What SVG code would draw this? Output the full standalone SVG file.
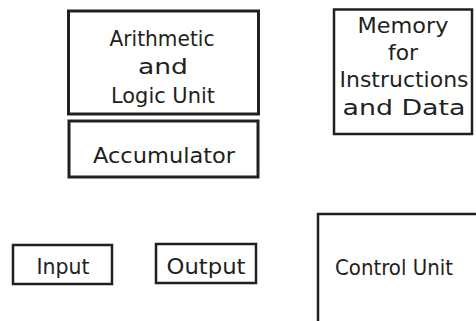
<svg xmlns="http://www.w3.org/2000/svg" width="476" height="321" viewBox="0 0 476 321">
  <style>
    .box { fill: #ffffff; stroke: #231f20; stroke-width: 3; }
    .thin { stroke-width: 2.5; }
    .lbl { font-family: "DejaVu Sans", "Liberation Sans", sans-serif; font-size: 21px; fill: #231f20; text-anchor: middle; }
  </style>
  <rect width="476" height="321" fill="#ffffff"/>

  <g id="alu">
    <rect class="box" x="68.5" y="11" width="190" height="103"/>
    <text class="lbl" x="162" y="46" textLength="105" lengthAdjust="spacingAndGlyphs">Arithmetic</text>
    <text class="lbl" x="163" y="74" textLength="50" lengthAdjust="spacingAndGlyphs">and</text>
    <text class="lbl" x="163" y="103" textLength="104" lengthAdjust="spacingAndGlyphs">Logic Unit</text>
  </g>

  <g id="accumulator">
    <rect class="box" x="69" y="121" width="189" height="56"/>
    <text class="lbl" x="164" y="163" textLength="142" lengthAdjust="spacingAndGlyphs">Accumulator</text>
  </g>

  <g id="memory">
    <rect class="box thin" x="334" y="9.5" width="138" height="124.5"/>
    <text class="lbl" x="403" y="33" textLength="91" lengthAdjust="spacingAndGlyphs">Memory</text>
    <text class="lbl" x="403" y="60" textLength="30" lengthAdjust="spacingAndGlyphs">for</text>
    <text class="lbl" x="404" y="87" textLength="129" lengthAdjust="spacingAndGlyphs">Instructions</text>
    <text class="lbl" x="404" y="115" textLength="123" lengthAdjust="spacingAndGlyphs">and Data</text>
  </g>

  <g id="input">
    <rect class="box thin" x="13" y="245" width="99" height="39"/>
    <text class="lbl" x="63" y="274" textLength="53" lengthAdjust="spacingAndGlyphs">Input</text>
  </g>

  <g id="output">
    <rect class="box thin" x="156" y="244" width="100" height="39"/>
    <text class="lbl" x="206" y="274" textLength="79" lengthAdjust="spacingAndGlyphs">Output</text>
  </g>

  <g id="control-unit">
    <path d="M318,321 V214 H476" fill="none" stroke="#231f20" stroke-width="2.5"/>
    <text class="lbl" x="394" y="275" textLength="118" lengthAdjust="spacingAndGlyphs">Control Unit</text>
  </g>

  <g id="connectors"></g>
</svg>
